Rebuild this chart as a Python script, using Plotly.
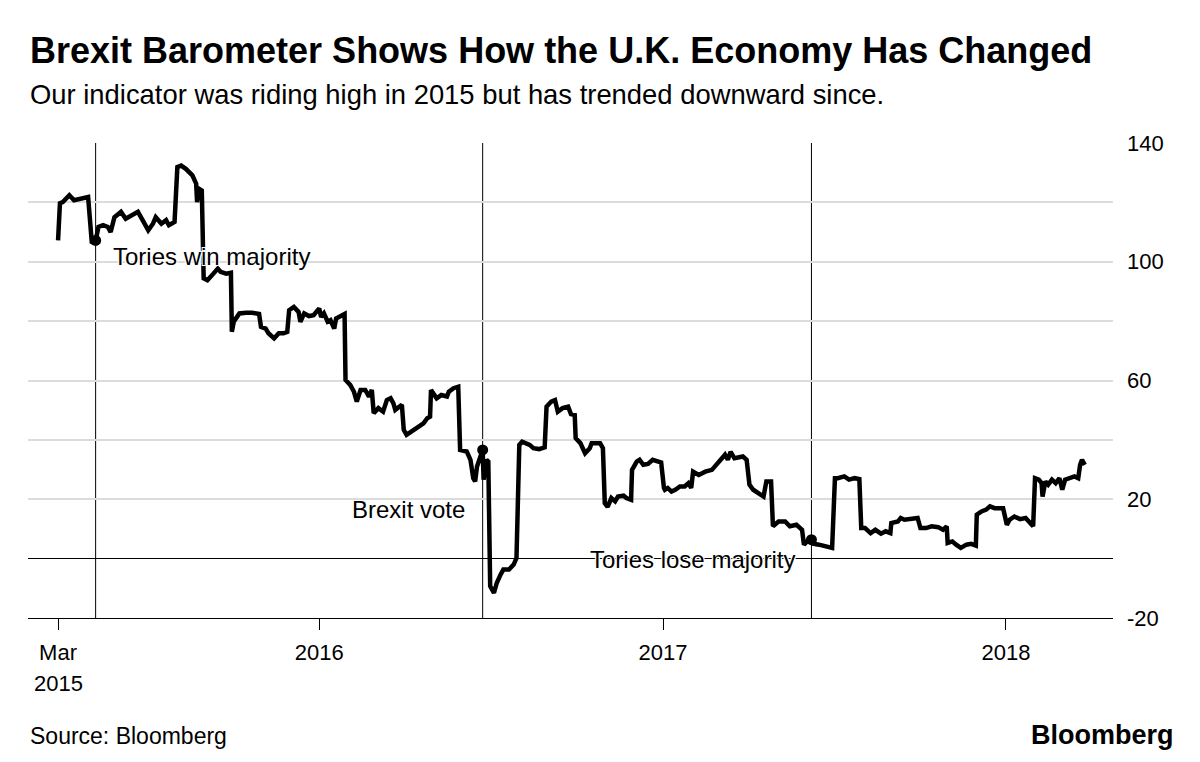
import plotly.graph_objects as go

# ---- data ----
dates = [
    "2015-03-29", "2015-03-31", "2015-04-03", "2015-04-10", "2015-04-15", "2015-04-23", "2015-04-30",
    "2015-05-04", "2015-05-08", "2015-05-11", "2015-05-16", "2015-05-21", "2015-05-24", "2015-05-28",
    "2015-06-04", "2015-06-09", "2015-06-15", "2015-06-22", "2015-06-27", "2015-07-03", "2015-07-08",
    "2015-07-11", "2015-07-17", "2015-07-22", "2015-07-25", "2015-07-31", "2015-08-03", "2015-08-07",
    "2015-08-12", "2015-08-16", "2015-08-19", "2015-08-23", "2015-08-24", "2015-08-26", "2015-08-29",
    "2015-08-31", "2015-09-04", "2015-09-09", "2015-09-15", "2015-09-18", "2015-09-24", "2015-09-29",
    "2015-09-30", "2015-10-02", "2015-10-08", "2015-10-15", "2015-10-22", "2015-10-29", "2015-10-31",
    "2015-11-05", "2015-11-08", "2015-11-14", "2015-11-19", "2015-11-24", "2015-11-28", "2015-11-30",
    "2015-12-05", "2015-12-10", "2015-12-12", "2015-12-16", "2015-12-21", "2015-12-26",
    "2016-01-01", "2016-01-03", "2016-01-06", "2016-01-10", "2016-01-13", "2016-01-17", "2016-01-19",
    "2016-01-22", "2016-01-28", "2016-01-29", "2016-02-03", "2016-02-07", "2016-02-10", "2016-02-14",
    "2016-02-19", "2016-02-23", "2016-02-26", "2016-02-28", "2016-03-04", "2016-03-09", "2016-03-13",
    "2016-03-17", "2016-03-20", "2016-03-22", "2016-03-29", "2016-03-31", "2016-04-03", "2016-04-08",
    "2016-04-16", "2016-04-21", "2016-04-25", "2016-04-28", "2016-04-29", "2016-05-05", "2016-05-10",
    "2016-05-16", "2016-05-18", "2016-05-23", "2016-05-28", "2016-05-30", "2016-06-06", "2016-06-10",
    "2016-06-13", "2016-06-15", "2016-06-17", "2016-06-23", "2016-06-24", "2016-06-27", "2016-06-29",
    "2016-07-01", "2016-07-05", "2016-07-08", "2016-07-12", "2016-07-15", "2016-07-21", "2016-07-26",
    "2016-07-29", "2016-08-01", "2016-08-04", "2016-08-08", "2016-08-12", "2016-08-16", "2016-08-22",
    "2016-08-28", "2016-08-30", "2016-09-04", "2016-09-08", "2016-09-11", "2016-09-16", "2016-09-22",
    "2016-09-25", "2016-09-29", "2016-09-30", "2016-10-05", "2016-10-08", "2016-10-10", "2016-10-15",
    "2016-10-17", "2016-10-26", "2016-10-29", "2016-10-31", "2016-11-03", "2016-11-07", "2016-11-11",
    "2016-11-14", "2016-11-20", "2016-11-23", "2016-11-28", "2016-11-29", "2016-12-04", "2016-12-07",
    "2016-12-11", "2016-12-16", "2016-12-21", "2016-12-27", "2016-12-30",
    "2017-01-02", "2017-01-03", "2017-01-06", "2017-01-10", "2017-01-14", "2017-01-19", "2017-01-24",
    "2017-01-28", "2017-01-31", "2017-02-02", "2017-02-08", "2017-02-15", "2017-02-22", "2017-02-25",
    "2017-03-02", "2017-03-08", "2017-03-11", "2017-03-14", "2017-03-18", "2017-03-27", "2017-03-31",
    "2017-04-03", "2017-04-07", "2017-04-14", "2017-04-18", "2017-04-21", "2017-04-26", "2017-04-28",
    "2017-05-04", "2017-05-11", "2017-05-16", "2017-05-23", "2017-05-29", "2017-05-31", "2017-06-05",
    "2017-06-08", "2017-06-10", "2017-06-16", "2017-06-23", "2017-06-30", "2017-07-03", "2017-07-06",
    "2017-07-13", "2017-07-18", "2017-07-24", "2017-07-29", "2017-07-31", "2017-08-04", "2017-08-10",
    "2017-08-15", "2017-08-21", "2017-08-26", "2017-08-31", "2017-09-01", "2017-09-08", "2017-09-11",
    "2017-09-15", "2017-09-20", "2017-09-29", "2017-10-02", "2017-10-08", "2017-10-14", "2017-10-21",
    "2017-10-26", "2017-10-30", "2017-10-31", "2017-11-05", "2017-11-09", "2017-11-14", "2017-11-20",
    "2017-11-25", "2017-11-30", "2017-12-01", "2017-12-06", "2017-12-11", "2017-12-15", "2017-12-20",
    "2017-12-26", "2017-12-29",
    "2018-01-02", "2018-01-05", "2018-01-10", "2018-01-16", "2018-01-22", "2018-01-26", "2018-01-30",
    "2018-02-01", "2018-02-05", "2018-02-08", "2018-02-09", "2018-02-12", "2018-02-15", "2018-02-19",
    "2018-02-23", "2018-02-27", "2018-03-02", "2018-03-05", "2018-03-09", "2018-03-15", "2018-03-19",
    "2018-03-21", "2018-03-23", "2018-03-26",
]
values = [
    107.2, 119.7, 120.1, 122.4, 120.7, 121.3, 121.8,
    106.2, 107.2, 111.7, 112.3, 111.7, 110.0, 115.0,
    116.8, 114.5, 115.6, 116.8, 114.0, 110.6, 112.8,
    115.0, 112.8, 114.0, 112.3, 113.4, 131.9, 132.4,
    131.3, 130.2, 129.1, 126.3, 120.1, 124.6, 124.0,
    94.4, 93.8, 95.5, 97.7, 96.6, 96.0, 96.3,
    76.4, 79.8, 82.6, 82.8, 82.8, 82.4, 78.1,
    77.5, 75.9, 74.2, 75.9, 75.9, 76.4, 83.7,
    84.8, 83.1, 79.8, 82.6, 81.7, 82.0,
    84.3, 81.4, 82.6, 79.8, 80.3, 77.5, 80.9,
    81.4, 82.4, 60.2, 58.5, 56.2, 52.9, 56.8,
    56.8, 54.6, 56.8, 49.0, 50.7, 49.5, 53.4,
    54.0, 52.3, 50.1, 51.8, 43.4, 41.7, 42.8,
    44.5, 45.6, 47.3, 47.8, 56.8, 54.0, 55.1,
    54.6, 56.2, 57.4, 57.9, 36.6, 36.1, 33.3,
    27.1, 26.0, 31.0, 36.6, 26.6, 33.3, 32.7,
    -9.3, -11.5, -8.2, -5.4, -3.7, -3.7, -2.0,
    0.2, 38.3, 39.4, 38.9, 38.3, 37.2, 36.9,
    37.5, 51.2, 52.9, 53.4, 49.5, 50.7, 51.2,
    48.7, 48.4, 40.6, 38.9, 36.6, 35.5, 37.2,
    38.9, 38.9, 37.2, 18.7, 17.4, 20.4, 19.3,
    20.9, 21.2, 20.4, 19.8, 29.9, 32.7, 33.3,
    31.6, 31.9, 33.3, 32.7, 32.4,
    23.8, 23.2, 23.8, 22.6, 23.2, 24.3, 24.3,
    25.4, 23.8, 29.3, 28.2, 29.3, 29.9, 31.0,
    33.3, 35.0, 33.3, 36.0, 33.8, 34.4, 33.3,
    24.9, 23.2, 21.5, 20.9, 26.0, 26.0, 10.9,
    12.5, 12.5, 10.9, 11.4, 9.7, 4.7, 6.4,
    6.4, 5.0, 4.7, 4.1, 3.6, 27.1, 27.1,
    27.7, 26.6, 27.1, 26.8, 10.3, 10.3, 8.6,
    9.7, 8.4, 9.2, 8.6, 12.0, 12.5, 13.7,
    13.1, 13.3, 13.7, 10.3, 10.3, 10.9, 10.6,
    9.7, 10.9, 5.3, 5.8, 4.7, 3.6, 4.7,
    5.0, 4.4, 14.8, 15.9, 16.5, 17.6, 17.0,
    17.0, 17.0,
    11.4, 13.1, 14.2, 13.3, 13.7, 12.5, 10.9,
    27.1, 26.6, 25.4, 20.9, 26.0, 24.9, 26.6,
    25.4, 27.1, 23.2, 26.6, 27.1, 27.7, 27.1,
    31.6, 33.3, 31.6,
]

event_dates = ["2015-05-08", "2016-06-23", "2017-06-08"]
event_values = [107.2, 36.6, 6.4]
event_labels = ["Tories win majority", "Brexit vote", "Tories lose majority"]
event_label_y = [101.8, 16.5, -0.3]

x_tick_vals = ["2015-03-29", "2016-01-01", "2017-01-01", "2018-01-01"]
x_tick_text = ["Mar", "2016", "2017", "2018"]
y_tick_vals = [-20, 0, 20, 40, 60, 80, 100, 120, 140]
y_tick_text = ["-20", "", "20", "", "60", "", "100", "", "140"]

FONT = "Liberation Sans, Arial, Helvetica, sans-serif"

fig = go.Figure()
fig.add_trace(go.Scatter(
    x=dates, y=values, mode="lines",
    line=dict(color="black", width=4.5),
    hoverinfo="skip", showlegend=False,
))
fig.add_trace(go.Scatter(
    x=event_dates, y=event_values, mode="markers",
    marker=dict(color="black", size=11),
    hoverinfo="skip", showlegend=False,
))

for d in event_dates:
    fig.add_shape(type="line", xref="x", yref="paper", x0=d, x1=d, y0=0, y1=1,
                  line=dict(color="black", width=1), layer="between")

halo = "white 1px 1px 0px, white -1px -1px 0px, white 1px -1px 0px, white -1px 1px 0px"
anchors = ["left", "right", "right"]
shifts = [15, -16, -14]
for d, lab, yv, anc, sh in zip(event_dates, event_labels, event_label_y, anchors, shifts):
    fig.add_annotation(x=d, y=yv, xref="x", yref="y", text=lab, showarrow=False,
                       xanchor=anc, yanchor="middle", xshift=sh,
                       font=dict(family=FONT, size=24, color="black", shadow=halo))

# titles and footer
fig.add_annotation(x=0, y=1.195, xref="paper", yref="paper", xanchor="left", yanchor="middle",
                   text="<b>Brexit Barometer Shows How the U.K. Economy Has Changed</b>",
                   showarrow=False, font=dict(family=FONT, size=36, color="black"))
fig.add_annotation(x=0, y=1.103, xref="paper", yref="paper", xanchor="left", yanchor="middle",
                   text="Our indicator was riding high in 2015 but has trended downward since.",
                   showarrow=False, font=dict(family=FONT, size=27.4, color="black"))
fig.add_annotation(x=0, y=-0.248, xref="paper", yref="paper", xanchor="left", yanchor="middle",
                   text="Source: Bloomberg", showarrow=False,
                   font=dict(family=FONT, size=23, color="black"))
fig.add_annotation(x=1.058, y=-0.246, xref="paper", yref="paper", xanchor="right", yanchor="middle",
                   text="<b>Bloomberg</b>", showarrow=False,
                   font=dict(family=FONT, size=27, color="black"))
fig.add_annotation(x=x_tick_vals[0], y=-0.137, xref="x", yref="paper", xanchor="center",
                   yanchor="middle", text="2015", showarrow=False,
                   font=dict(family=FONT, size=22, color="black"))

# the page body has an 8px margin, so the figure is shifted by that amount
fig.update_layout(
    width=1184, height=746,
    margin=dict(l=20, r=79, t=135, b=136, autoexpand=False),
    paper_bgcolor="white", plot_bgcolor="white",
    font=dict(family=FONT, size=22, color="black"),
    showlegend=False,
    xaxis=dict(
        range=["2015-02-25", "2018-04-25"], type="date",
        tickvals=x_tick_vals, ticktext=x_tick_text,
        showgrid=False, zeroline=False,
        showline=True, linecolor="black", linewidth=1,
        ticks="outside", ticklen=11, tickwidth=1, tickcolor="black",
        ticklabelstandoff=4,
        tickfont=dict(family=FONT, size=22, color="black"),
        automargin=False, fixedrange=True,
    ),
    yaxis=dict(
        range=[-20, 140], side="right",
        tickvals=y_tick_vals, ticktext=y_tick_text,
        showgrid=True, gridcolor="#dcdcdc", gridwidth=2,
        zeroline=True, zerolinecolor="black", zerolinewidth=1,
        showline=False, ticks="",
        ticklabelstandoff=13,
        tickfont=dict(family=FONT, size=22, color="black"),
        automargin=False, fixedrange=True,
    ),
)

fig.write_html("out.html")
